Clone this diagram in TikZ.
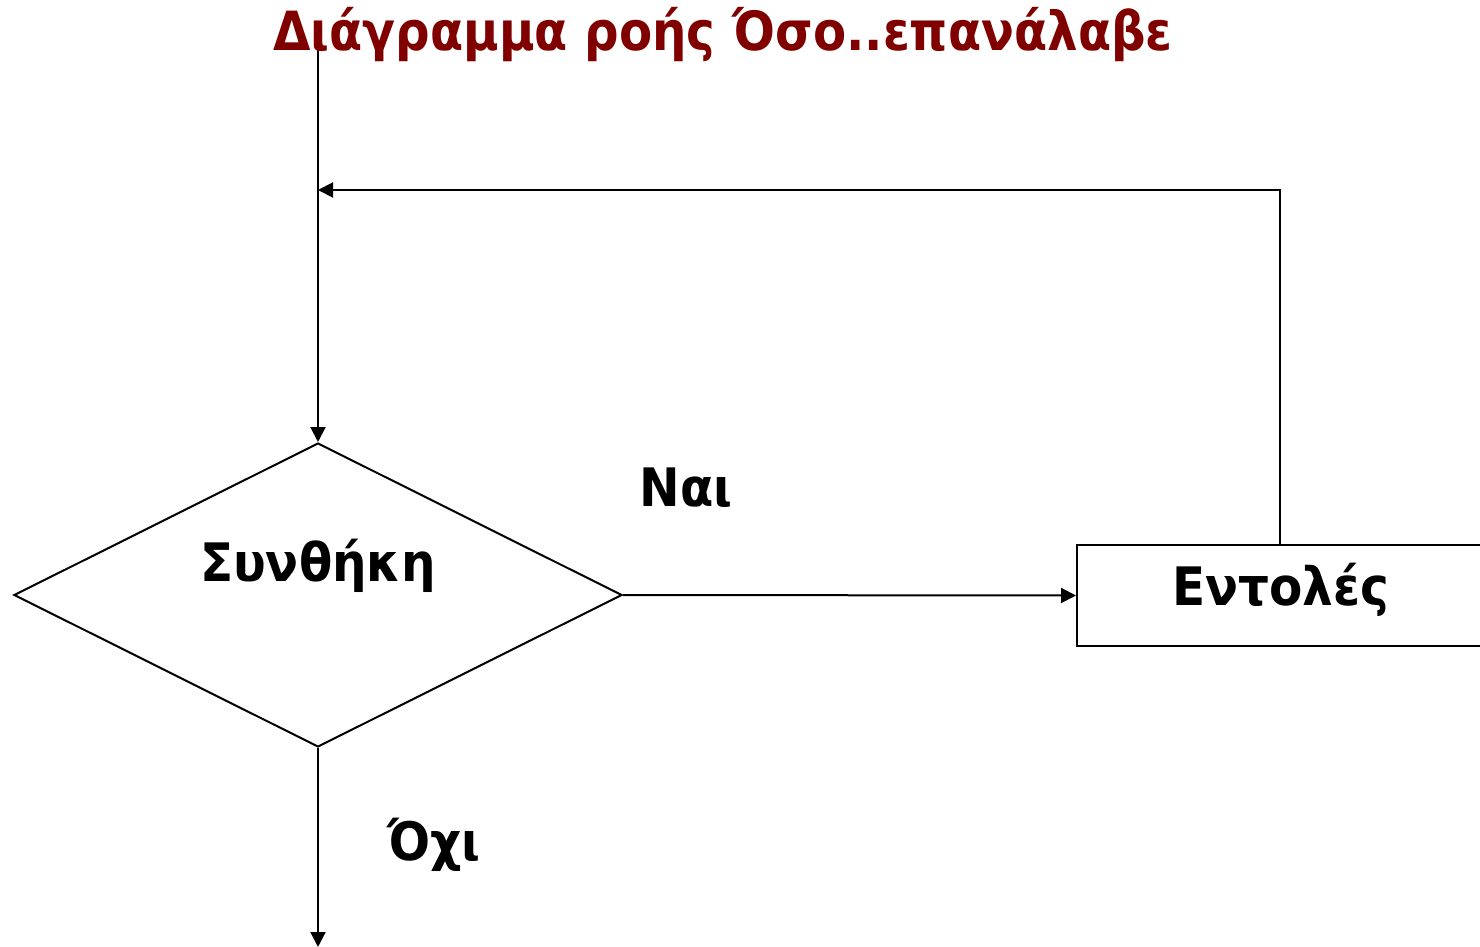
\documentclass[tikz,border=0pt]{standalone}
\usepackage{fontspec}
\setmainfont{DejaVu Sans}[FakeStretch=0.915]
\newfontfamily\headfont{DejaVu Sans}[FakeStretch=0.895]
\usetikzlibrary{arrows.meta,shapes.geometric}
\definecolor{titlered}{RGB}{128,0,0}
\begin{document}
\begin{tikzpicture}[x=0.5pt,y=-0.5pt,
  line/.style={line width=1pt, draw=black},
  arr/.style={line, -{Triangle[length=7.5pt,width=7.5pt]}},
  lbl/.style={font=\bfseries\fontsize{26.5}{30}\selectfont, inner sep=0pt},
  title/.style={font=\headfont\bfseries\fontsize{27}{30}\selectfont, text=titlered, inner sep=0pt}]
\useasboundingbox (0,0) rectangle (1480,947);

% entry line, drawn first so the heading sits on top of it
\coordinate (start) at (318,38);
\coordinate (join) at (318,190);
\coordinate (exit) at (318,947);

% decision and command block
\node[line, diamond, minimum width=304pt, minimum height=152pt, inner sep=0pt] (cond) at (318,595) {};
\node[lbl] (condtext) at (318,566) {Συνθήκη};
\node[line, rectangle, minimum width=203pt, minimum height=50.5pt, inner sep=0pt] (cmd) at (1280,595.5) {};
\node[lbl] (cmdtext) at (1281,590) {Εντολές};

% branch labels
\node[lbl] (yes) at (686,488) {Ναι};
\node[lbl] (no) at (434,845) {Όχι};

% connectors
\draw[arr] (start) -- (cond.north);
\draw[arr] (cmd.north) |- (join);
\draw[arr] (cond.east) -- (cmd.west);
\draw[arr] (cond.south) -- (exit);

% heading
\node[title] (head) at (723,35) {Διάγραμμα ροής Όσο..επανάλαβε};
\end{tikzpicture}
\end{document}
